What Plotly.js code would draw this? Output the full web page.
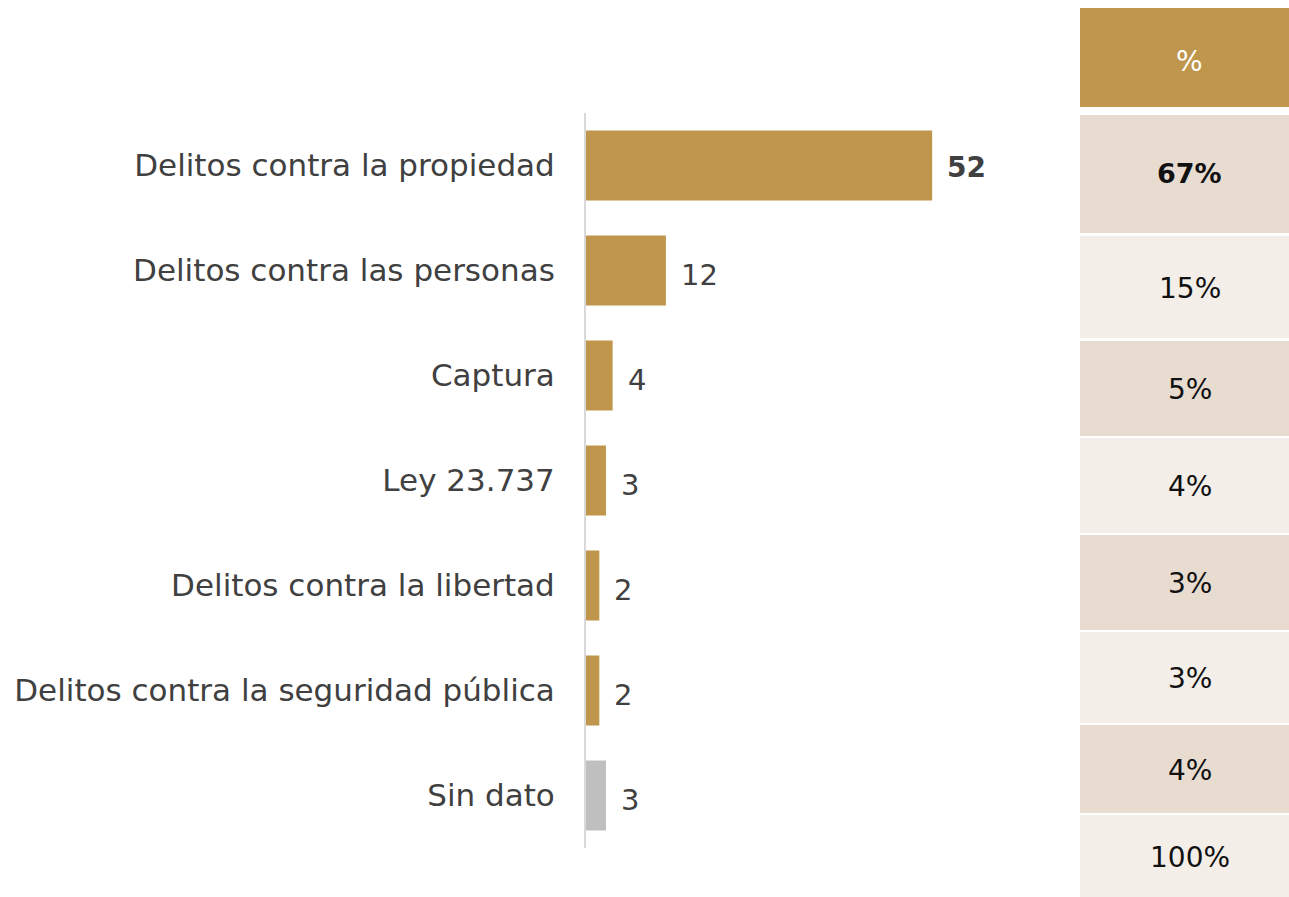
<!DOCTYPE html>
<html>
<head>
<meta charset="utf-8">
<script src="https://cdn.plot.ly/plotly-3.0.1.min.js"></script>
<style>
  html, body { margin: 0; padding: 0; background: #ffffff; }
  #chart { width: 1289px; height: 897px; }
</style>
</head>
<body>
<div id="chart"></div>
<script>
// ---- data ----
const categories = [
  "Delitos contra la propiedad",
  "Delitos contra las personas",
  "Captura",
  "Ley 23.737",
  "Delitos contra la libertad",
  "Delitos contra la seguridad pública",
  "Sin dato"
];
const values = [52, 12, 4, 3, 2, 2, 3];
const tableHeader = "%";
const percentLabels = ["67%", "15%", "5%", "4%", "3%", "3%", "4%", "100%"];

// ---- style ----
const W = 1289, H = 897;
const FONT = "DejaVu Sans";
const GOLD = "#BF964C";
const GRAY = "#BFBFBF";
const TXT = "#404040";
const DARK_ROW = "#E8DCD1";
const LIGHT_ROW = "#F3EEE8";

const barColors = categories.map(c => c === "Sin dato" ? GRAY : GOLD);

const trace = {
  type: "bar",
  orientation: "h",
  y: categories,
  x: values,
  marker: { color: barColors, line: { width: 0 } },
  width: 0.667,
  hoverinfo: "skip"
};

// value labels
const annotations = values.map((v, i) => ({
  x: v, y: categories[i], xref: "x", yref: "y",
  text: i === 0 ? "<b>" + v + "</b>" : String(v),
  showarrow: false, xanchor: "left", yanchor: "middle",
  xshift: 13, yshift: i === 0 ? -2 : -4,
  font: { family: FONT, size: i === 0 ? 28 : 29, color: TXT }
}));

// table (paper coordinates from pixels)
const px = x => x / W;
const py = y => 1 - y / H;
const tx0 = 1080, tx1 = 1289;
const rowEdges = [[8, 107], [115, 233], [236, 338], [341, 436], [438, 533], [535, 630], [632, 723], [725, 813], [815, 897]];
const shapes = [];
rowEdges.forEach((r, i) => {
  const fill = i === 0 ? GOLD : (i % 2 === 1 ? DARK_ROW : LIGHT_ROW);
  shapes.push({
    type: "rect", xref: "paper", yref: "paper",
    x0: px(tx0), x1: px(tx1), y0: py(r[1]), y1: py(r[0]),
    fillcolor: fill, line: { width: 0 }, layer: "below"
  });
});
const cellTexts = [tableHeader].concat(percentLabels);
cellTexts.forEach((t, i) => {
  const r = rowEdges[i];
  const yoff = i === 0 ? 4 : (i === 1 ? -1 : 1);
  annotations.push({
    xref: "paper", yref: "paper",
    x: px((tx0 + tx1) / 2 + 5), y: py((r[0] + r[1]) / 2 + yoff),
    text: i === 1 ? "<b>" + t + "</b>" : t,
    showarrow: false, xanchor: "center", yanchor: "middle",
    font: { family: FONT, size: i === 1 ? 27 : 28, color: i === 0 ? "#ffffff" : "#111111" }
  });
});

const layout = {
  width: W, height: H,
  margin: { l: 0, r: 0, t: 0, b: 0 },
  paper_bgcolor: "#ffffff",
  plot_bgcolor: "rgba(0,0,0,0)",
  showlegend: false,
  bargap: 0.333,
  xaxis: {
    domain: [px(586), px(1040)],
    range: [0, 68.2],
    visible: false,
    fixedrange: true
  },
  yaxis: {
    domain: [py(848), py(113)],
    autorange: "reversed",
    type: "category",
    showline: true, linecolor: "#D9D9D9", linewidth: 2,
    showgrid: false, zeroline: false,
    ticks: "",
    ticklabelstandoff: 23,
    tickfont: { family: FONT, size: 31, color: TXT },
    fixedrange: true
  },
  shapes: shapes,
  annotations: annotations
};

Plotly.newPlot("chart", [trace], layout, { displayModeBar: false, staticPlot: true });
</script>
</body>
</html>
